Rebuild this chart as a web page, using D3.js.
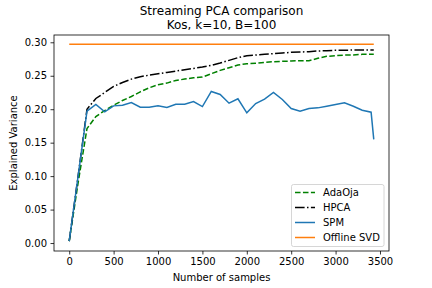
<!DOCTYPE html>
<html>
<head>
<meta charset="utf-8">
<script src="https://cdn.jsdelivr.net/npm/d3@7"></script>
<style>
  body { margin: 0; background: #fff; }
  text { font-family: "DejaVu Sans", sans-serif; fill: #000; }
</style>
</head>
<body>
<div id="chart"></div>
<script>
// samples seen (batch size 100), last batch ends at 3430
var samples = [0, 100, 200, 300, 400, 500, 600, 700, 800, 900, 1000, 1100, 1200, 1300, 1400, 1500, 1600,
    1700, 1800, 1900, 2000, 2100, 2200, 2300, 2400, 2500, 2600, 2700, 2800, 2900, 3000, 3100, 3200, 3300, 3400, 3430];

var adaOja = [0.003, 0.090, 0.171, 0.189, 0.198, 0.206, 0.213, 0.219, 0.226, 0.232, 0.2365, 0.239, 0.243, 0.245,
    0.247, 0.248, 0.253, 0.258, 0.262, 0.266, 0.268, 0.2685, 0.270, 0.271, 0.2715, 0.272, 0.2725, 0.2725,
    0.276, 0.279, 0.280, 0.281, 0.281, 0.282, 0.282, 0.282];

var hpca = [0.003, 0.100, 0.200, 0.216, 0.225, 0.234, 0.240, 0.245, 0.2485, 0.251, 0.253, 0.255, 0.257, 0.259,
    0.261, 0.263, 0.2655, 0.269, 0.273, 0.277, 0.280, 0.281, 0.282, 0.283, 0.284, 0.285, 0.2855, 0.286,
    0.287, 0.2875, 0.288, 0.288, 0.2885, 0.2885, 0.2885, 0.2885];

var spm = [0.003, 0.100, 0.197, 0.207, 0.196, 0.205, 0.206, 0.210, 0.203, 0.203, 0.205, 0.2025, 0.2075, 0.2075,
    0.2115, 0.204, 0.2265, 0.222, 0.209, 0.2155, 0.1945, 0.2085, 0.215, 0.225, 0.2145, 0.201, 0.197, 0.201,
    0.202, 0.2045, 0.207, 0.2095, 0.2045, 0.1985, 0.1955, 0.155];

var offlineSvd = 0.297;

var xTicks = [0, 500, 1000, 1500, 2000, 2500, 3000, 3500];
var yTicks = [0, 0.05, 0.10, 0.15, 0.20, 0.25, 0.30];

var W = 432, H = 288;
var padL = 54, padR = 389, padT = 35, padB = 251;

var svg = d3.select("#chart").append("svg")
    .attr("width", W).attr("height", H);

var x = d3.scaleLinear().domain([-171.5, 3601.5]).range([padL, padR]);
var y = d3.scaleLinear().domain([-0.0119, 0.3109]).range([padB, padT]);

// axes
var xAxis = svg.append("g")
    .attr("transform", "translate(0," + padB + ")")
    .call(d3.axisBottom(x).tickValues(xTicks).tickSize(3.5).tickPadding(3.5).tickFormat(d3.format("d")));
var yAxis = svg.append("g")
    .attr("transform", "translate(" + padL + ",0)")
    .call(d3.axisLeft(y).tickValues(yTicks).tickSize(3.5).tickPadding(3.5).tickFormat(d3.format(".2f")));
[xAxis, yAxis].forEach(function (g) {
    g.select(".domain").remove();
    g.selectAll("line").attr("stroke", "#000").attr("stroke-width", 0.8);
    g.selectAll("text").attr("font-size", 10).attr("font-family", "DejaVu Sans");
});

svg.append("rect")
    .attr("x", padL).attr("y", padT)
    .attr("width", padR - padL).attr("height", padB - padT)
    .attr("fill", "none").attr("stroke", "#000").attr("stroke-width", 0.8);

var plot = svg.append("g");

var line = d3.line()
    .x(function (d) { return x(d[0]); })
    .y(function (d) { return y(d[1]); });

function pairs(vals) {
    return samples.map(function (s, i) { return [s, vals[i]]; });
}

var series = [
    { name: "AdaOja", vals: adaOja, color: "green", dash: "5.55,2.4" },
    { name: "HPCA", vals: hpca, color: "black", dash: "9.6,2.4,1.5,2.4" },
    { name: "SPM", vals: spm, color: "#1f77b4", dash: null },
    { name: "Offline SVD", vals: samples.map(function () { return offlineSvd; }), color: "#ff7f0e", dash: null }
];

series.forEach(function (s) {
    plot.append("path")
        .datum(pairs(s.vals))
        .attr("d", line)
        .attr("fill", "none")
        .attr("stroke", s.color)
        .attr("stroke-width", 1.5)
        .attr("stroke-dasharray", s.dash);
});

// titles
svg.append("text").attr("x", (padL + padR) / 2).attr("y", 15)
    .attr("text-anchor", "middle").attr("font-size", 12).text("Streaming PCA comparison");
svg.append("text").attr("x", (padL + padR) / 2).attr("y", 29)
    .attr("text-anchor", "middle").attr("font-size", 12).text("Kos, k=10, B=100");

svg.append("text").attr("x", (padL + padR) / 2).attr("y", 281)
    .attr("text-anchor", "middle").attr("font-size", 10).text("Number of samples");
svg.append("text")
    .attr("transform", "translate(17," + (padT + padB) / 2 + ") rotate(-90)")
    .attr("text-anchor", "middle").attr("font-size", 10).text("Explained Variance");

// legend
var leg = svg.append("g");
leg.append("rect")
    .attr("x", 291.5).attr("y", 184.5).attr("width", 92.5).attr("height", 62)
    .attr("rx", 2).attr("fill", "#fff").attr("fill-opacity", 0.8)
    .attr("stroke", "#ccc").attr("stroke-width", 0.8);

series.forEach(function (s, i) {
    var ly = 192.5 + i * 15;
    leg.append("line")
        .attr("x1", 295).attr("x2", 315).attr("y1", ly).attr("y2", ly)
        .attr("stroke", s.color).attr("stroke-width", 1.5)
        .attr("stroke-dasharray", s.dash);
    leg.append("text")
        .attr("x", 323).attr("y", ly + 3.6)
        .attr("font-size", 10).text(s.name);
});
</script>
</body>
</html>
